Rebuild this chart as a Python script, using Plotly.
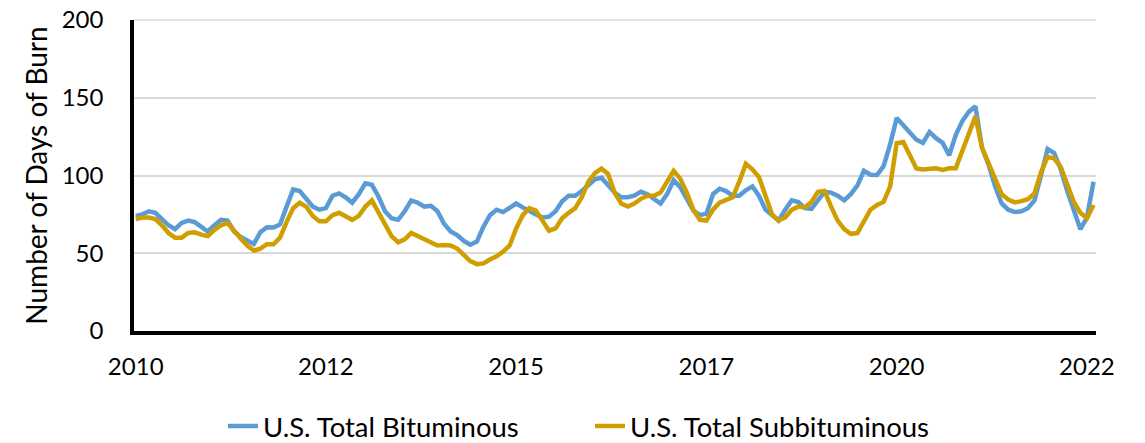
import plotly.graph_objects as go

# Monthly observations (category index), Jun 2010 onward
months = [f"{2010 + (5 + i) // 12}-{(5 + i) % 12 + 1:02d}" for i in range(147)]

bituminous = [
    74, 75, 77, 76, 72, 68, 65.5, 69.5, 71, 70, 67, 64, 68, 71.5, 71, 64, 60.5, 58, 56, 63.5,
    66.7, 66.5, 68.5, 80, 91, 90, 85, 80, 78, 79, 87, 88.5, 86, 82.5, 88, 95, 94, 86.5,
    77, 72.5, 71.5, 77, 84, 82.5, 80, 80.5, 77, 69, 64, 61.7, 58, 55.5, 57.5, 67, 74.5, 78,
    76.5, 79, 82, 79.5, 77, 75, 73, 73.5, 77, 83.5, 87, 87, 90, 94, 97.5, 98.5, 94, 89, 86, 86,
    87, 89.5, 88, 85, 82, 88, 97, 92.5, 85, 77.5, 74.5, 75.5, 88, 91.5, 90, 87, 87, 90.5, 93,
    87, 78, 74, 71, 78, 84, 83, 79, 78.5, 84.5, 89.5, 89, 87, 84, 88, 93.5, 103, 100.5, 100.3,
    106, 120, 137, 132.5, 127.5, 123, 121, 128, 124, 121, 113, 126, 135, 141, 144.5, 118,
    107, 93, 82, 78, 76.5, 77, 79, 84, 100, 117, 114.5, 104, 90, 77, 65.5, 73, 96,
]

subbituminous = [
    72, 73, 73, 72, 68, 63, 60, 60, 63, 63.5, 62, 61, 65, 68, 69.5, 64, 59.5, 55, 51.7, 53,
    55.8, 55.8, 60, 70, 79, 82.5, 80, 74, 70.5, 70.5, 74.5, 76, 73.5, 71.5, 74, 80, 84, 76,
    69.5, 61, 57, 59, 63, 61, 59, 57, 55, 55.3, 55, 53, 48.5, 45, 43, 43.5, 46, 48,
    51, 55, 66, 74.5, 79, 77.5, 71, 64.5, 66, 72.5, 76, 79, 86, 96, 101.5, 104.5, 101, 89, 82, 80,
    82, 85, 87, 87, 89, 96, 103, 98, 89, 78, 71.5, 71, 78, 82.5, 84, 86, 96, 107.5, 104,
    99, 87, 75, 71, 73, 78, 80, 79.5, 83, 89.5, 90, 80, 71, 65.5, 62.5, 63, 71, 78, 81,
    83, 93, 120.8, 121.5, 113, 104.5, 103.8, 104, 104.6, 103.6, 104.6, 104.7, 116, 127, 138, 118,
    108, 98, 88, 84.5, 82.7, 83.5, 84.8, 88.5, 102, 112, 111, 105.5, 95, 83, 76, 72.5, 81,
]

tick_index = [0, 29, 58, 87, 116, 145]
tick_labels = ["2010", "2012", "2015", "2017", "2020", "2022"]
Y_MAX = 200

FONT = "Lato, 'Open Sans', Arial, sans-serif"
GRID = "#D9D9D9"

fig = go.Figure()
fig.add_trace(go.Scatter(x=list(range(len(months))), y=bituminous, mode="lines",
                         name="U.S. Total Bituminous",
                         line=dict(color="#5B9BD5", width=4.5)))
fig.add_trace(go.Scatter(x=list(range(len(months))), y=subbituminous, mode="lines",
                         name="U.S. Total Subbituminous",
                         line=dict(color="#D09E00", width=4.5)))

# top gridline at the plot edge (plotly drops the gridline lying on the edge)
fig.add_shape(type="line", xref="paper", x0=0, x1=1, yref="paper", y0=1, y1=1,
              line=dict(color=GRID, width=1.5), layer="below")

fig.update_layout(
    width=1145, height=443,
    margin=dict(l=134, r=49, t=20, b=112, autoexpand=False),
    paper_bgcolor="white", plot_bgcolor="white",
    font=dict(family=FONT, size=24, color="black"),
    showlegend=True,
    legend=dict(orientation="h", x=0.0925, xanchor="left", y=-0.306, yanchor="middle",
                font=dict(family=FONT, size=27.5), itemwidth=30,
                entrywidth=322, entrywidthmode="pixels", traceorder="normal"),
    xaxis=dict(
        range=[-0.26, 146.38], automargin=False,
        tickmode="array", tickvals=tick_index, ticktext=tick_labels,
        showgrid=False, zeroline=False,
        showline=True, linecolor="black", linewidth=3.5,
        ticks="", ticklabelstandoff=11, ticklabeloverflow="allow",
        tickfont=dict(family=FONT, size=24),
    ),
    yaxis=dict(
        range=[0, Y_MAX], dtick=50, tick0=0, automargin=False,
        showgrid=True, gridcolor=GRID, gridwidth=1.5,
        zeroline=False,
        showline=True, linecolor="black", linewidth=3.5,
        ticks="", ticklabelstandoff=22, ticklabeloverflow="allow",
        tickfont=dict(family=FONT, size=24),
        title=dict(text="Number of Days of Burn", font=dict(family=FONT, size=28), standoff=7),
    ),
)

fig.write_html("out.html", config={"displayModeBar": False},
               post_script="document.body.style.margin='0px';")
